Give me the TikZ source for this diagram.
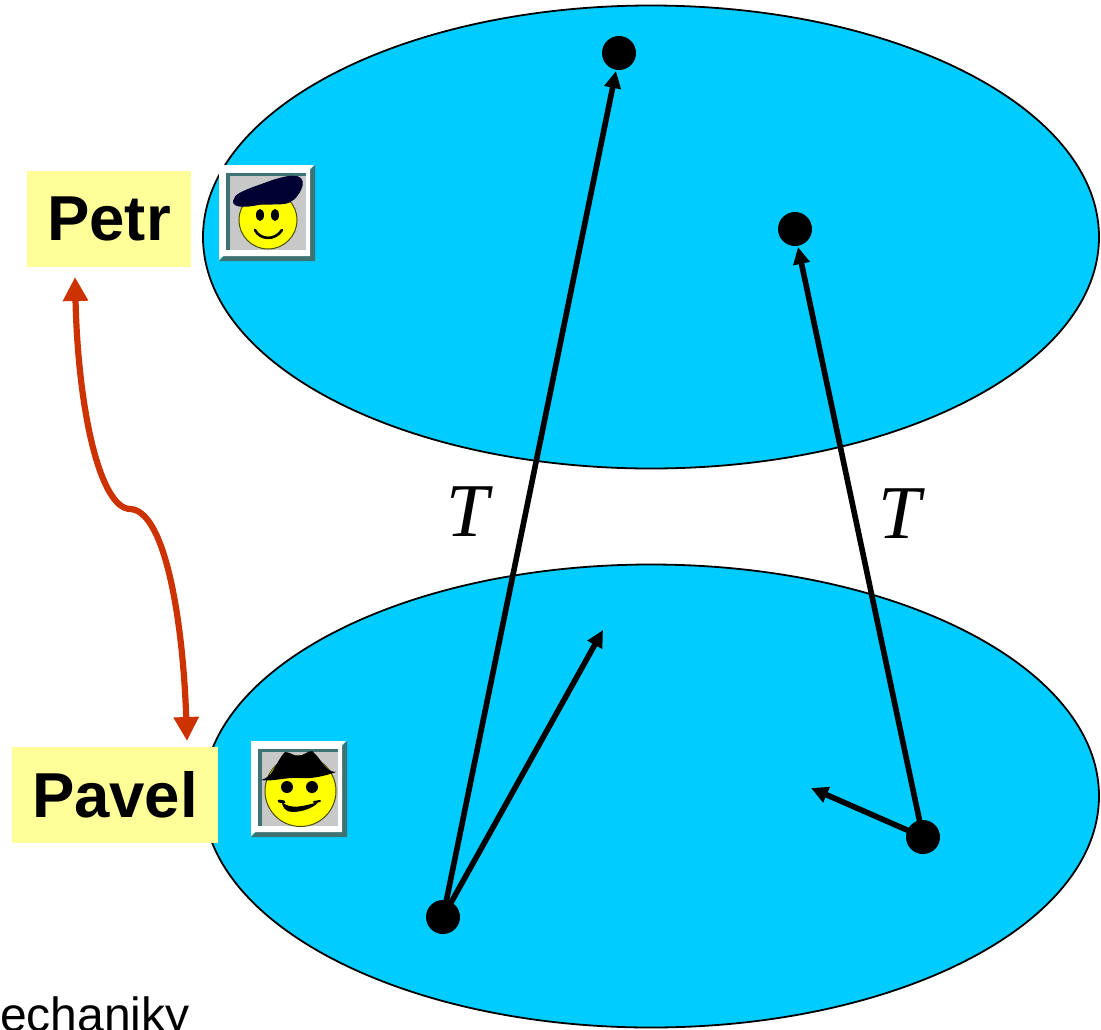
\documentclass[tikz,border=0pt]{standalone}
\usepackage{fontspec}
\setmainfont{Liberation Sans}
\newfontfamily\timesfont{Liberation Serif}
\usetikzlibrary{arrows.meta,shapes.geometric}
\definecolor{skyfill}{HTML}{00CCFF}
\definecolor{paleyellow}{HTML}{FFFF99}
\definecolor{rustred}{HTML}{CC3300}
\definecolor{bevel}{HTML}{3F7272}
\definecolor{icongray}{HTML}{C8C8C8}
\definecolor{beret}{HTML}{000033}
\definecolor{smiley}{HTML}{FFFF00}
\tikzset{
  planet/.style={draw=black,line width=1.8pt,fill=skyfill,ellipse,minimum width=896pt,minimum height=463pt,inner sep=0pt},
  dotnode/.style={circle,fill=black,minimum size=34pt,inner sep=0pt},
  namebox/.style={fill=paleyellow,inner sep=0pt,font=\bfseries\fontsize{63.5}{63.5}\selectfont},
  tlabel/.style={inner sep=0pt,font=\timesfont\itshape\fontsize{76}{76}\selectfont},
  conn/.style={line width=5.6pt,draw=black,-{Triangle[length=17pt,width=16pt]}},
  link/.style={line width=6.2pt,draw=rustred,{Triangle[length=24pt,width=24pt]}-{Triangle[length=24pt,width=24pt]}}
}
\newcommand{\iconframe}[2]{%
  \begin{scope}[shift={(#1,#2)}]
    \fill[bevel] (96,0) -- (96,96) -- (0,96) -- (5,91) -- (91,5) -- cycle;
    \fill[white] (0,0) -- (95,0) -- (91,4) -- (91,91) -- (4,91) -- (0,95) -- cycle;
    \fill[bevel] (7,8) rectangle (87,85);
    \fill[icongray] (10.5,11) rectangle (87,85);
  \end{scope}}
\begin{document}
\begin{tikzpicture}[x=1pt,y=-1pt]
\useasboundingbox (0,0) rectangle (1101,1029);
\begin{scope}
\clip (0,0) rectangle (1101,1029);
\node[anchor=base west,inner sep=0pt,font=\fontsize{48}{48}\selectfont] (caption) at (0,1031) {echaniky};
\end{scope}
\node[planet] (upper) at (651,237) {};
\node[planet] (lower) at (651,796) {};
\node[namebox,minimum width=164pt,minimum height=96pt] (petr) at (109,219) {\raisebox{-3pt}{Petr}};
\node[namebox,minimum width=206pt,minimum height=96pt] (pavel) at (115,795) {\raisebox{-3pt}{Pavel}};
\node[dotnode] (top) at (619,53) {};
\node[dotnode] (mid) at (795,229) {};
\node[dotnode] (ll) at (443,917) {};
\node[dotnode] (lr) at (923,837) {};
\coordinate (vecA) at (603,630);
\coordinate (vecB) at (811,788);
\coordinate (linkA) at (75,277);
\coordinate (linkB) at (187,741);
\coordinate (topT) at (616,71);
\coordinate (midT) at (798,247);
\draw[conn] (ll.center) -- (topT);
\draw[conn] (lr.center) -- (midT);
\draw[conn] (ll.center) -- (vecA);
\draw[conn] (lr.center) -- (vecB);
\draw[link] (linkA) .. controls (78,410) and (100,508) .. (130,509) .. controls (165,510) and (183,620) .. (linkB);
\node[tlabel] (t1) at (468,512) {T};
\node[tlabel] (t2) at (900,514) {T};
% Petr icon
\iconframe{219}{165}
\fill[smiley,draw=black!70!smiley,line width=1pt] (268,220) circle (29);
\fill[beret] (233,201) .. controls (234,194) and (243,191) .. (253,187) .. controls (265,183) and (285,174) .. (297,176) .. controls (304,178) and (304,184) .. (301,190) .. controls (297,198) and (292,203) .. (284,204) .. controls (275,205) and (265,204) .. (258,205) .. controls (250,207) and (232,209) .. (233,201) -- cycle;
\fill[black] (260,215) ellipse (4 and 6);
\fill[black] (275,215) ellipse (4 and 6);
\draw[black,line width=2.6pt,line cap=round] (255,230) .. controls (260,240) and (275,241) .. (282,230);
% Pavel icon
\iconframe{251}{741}
\fill[smiley,draw=black!70!smiley,line width=1pt] (300.5,791) circle (35.5);
\fill[black] (261,780) .. controls (266,779) and (270,775) .. (272,772) .. controls (276,766) and (280,757) .. (285,752) .. controls (290,752) and (294,756) .. (298,756) .. controls (303,756) and (307,751) .. (312,751) .. controls (317,755) and (320,760) .. (323,764) .. controls (326,768) and (330,772) .. (336,772) .. controls (325,776) and (312,779) .. (300,778) .. controls (285,777) and (272,782) .. (261,780) -- cycle;
\fill[black] (287,787) circle (6);
\fill[black] (312,787) circle (6);
\draw[black,line width=3pt,line cap=round] (279,801) -- (284,802);
\draw[black,line width=2pt,line cap=round] (314,802) -- (320,801);
\fill[black] (282,802) .. controls (290,810) and (305,806) .. (318,802) .. controls (316,806) and (305,812) .. (292,812) .. controls (286,812) and (282,807) .. (282,802) -- cycle;
\end{tikzpicture}
\end{document}
